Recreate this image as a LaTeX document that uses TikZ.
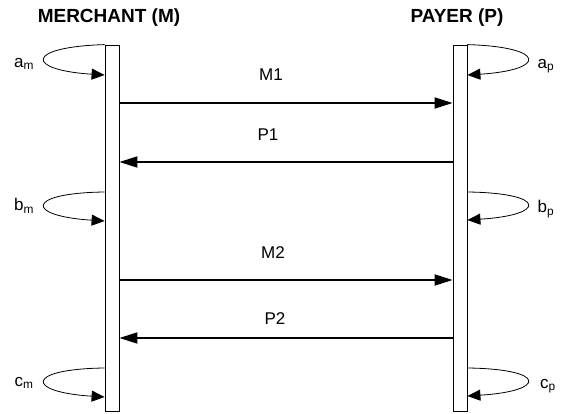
\documentclass[tikz,border=0pt]{standalone}
\usepackage{fontspec}
\setmainfont{Liberation Sans}
\usetikzlibrary{arrows.meta}
\begin{document}
\begin{tikzpicture}[x=1pt, y=-1pt,
    bar/.style = {draw, line width=0.8pt, minimum width=14pt, minimum height=366pt, inner sep=0pt},
    head/.style = {font=\fontsize{19}{22}\selectfont\bfseries, inner sep=0pt},
    lbl/.style = {font=\fontsize{17}{20}\selectfont, inner sep=0pt},
    msg/.style = {line width=1.8pt, -{Triangle[length=18pt,width=11pt]}},
    self/.style = {line width=0.8pt, -{Triangle[length=13pt,width=11pt]}}]
\useasboundingbox (0,0) rectangle (566,414);

\node[head] (MH) at (109,18) {MERCHANT (M)};
\node[head] (PH) at (457,18) {PAYER (P)};
\node[bar] (M) at (112,228) {};
\node[bar] (P) at (460,228) {};

% messages
\draw[msg] (M.east |- 0,103) -- (P.west |- 0,103);
\draw[msg] (P.west |- 0,162) -- (M.east |- 0,162);
\draw[msg] (M.east |- 0,280) -- (P.west |- 0,280);
\draw[msg] (P.west |- 0,338) -- (M.east |- 0,338);
\node[lbl] (M1) at (271,75) {M1};
\node[lbl] (P1) at (268,135) {P1};
\node[lbl] (M2) at (273,253) {M2};
\node[lbl] (P2) at (275,319) {P2};

% local steps
\coordinate (am) at (M.west |- 0,75);
\coordinate (bm) at (M.west |- 0,221);
\coordinate (cm) at (M.west |- 0,397);
\coordinate (ap) at (P.east |- 0,75);
\coordinate (bp) at (P.east |- 0,220);
\coordinate (cp) at (P.east |- 0,396);
\draw[self] (M.north west) .. controls (25,47) and (25,70) .. (am);
\draw[self] (M.west |- 0,192) .. controls (25,193) and (25,216) .. (bm);
\draw[self] (M.west |- 0,368) .. controls (25,369) and (25,392) .. (cm);
\draw[self] (P.north east) .. controls (547,47) and (547,70) .. (ap);
\draw[self] (P.east |- 0,192) .. controls (547,193) and (547,215) .. (bp);
\draw[self] (P.east |- 0,368) .. controls (547,369) and (547,391) .. (cp);
\node[lbl] (amL) at (24,64) {a\textsubscript{m}};
\node[lbl] (bmL) at (24,206) {b\textsubscript{m}};
\node[lbl] (cmL) at (24,383) {c\textsubscript{m}};
\node[lbl] (apL) at (546,66) {a\textsubscript{p}};
\node[lbl] (bpL) at (546,209) {b\textsubscript{p}};
\node[lbl] (cpL) at (548,386) {c\textsubscript{p}};
\end{tikzpicture}
\end{document}
